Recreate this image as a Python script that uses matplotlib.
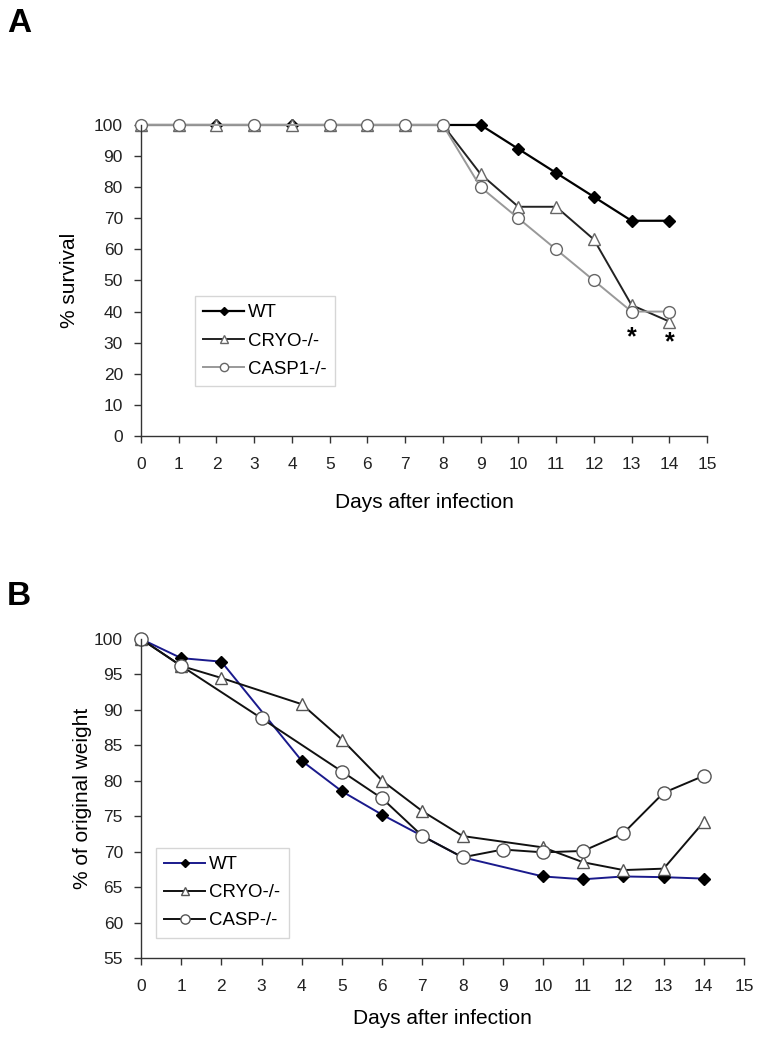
import matplotlib
matplotlib.use('Agg')
import matplotlib.pyplot as plt

plt.rcParams['font.family'] = ['Liberation Sans', 'DejaVu Sans']

# panel A - survival
days_a = list(range(15))
wt_a = [100, 100, 100, 100, 100, 100, 100, 100, 100, 100, 92.3, 84.6, 76.9, 69.2, 69.2]
cryo_a = [100, 100, 100, 100, 100, 100, 100, 100, 100, 84.2, 73.7, 73.7, 63.2, 42.1, 36.8]
casp_days_a = [0, 1, 3, 5, 6, 7, 8, 9, 10, 11, 12, 13, 14]
casp_a = [100, 100, 100, 100, 100, 100, 100, 80, 70, 60, 50, 40, 40]
star_days = [13, 14]
star_y = [29.5, 28]

# panel B - weight
wt_days_b = [0, 1, 2, 4, 5, 6, 8, 10, 11, 12, 13, 14]
wt_b = [100, 97.3, 96.8, 82.8, 78.5, 75.2, 69.2, 66.5, 66.1, 66.5, 66.4, 66.2]
cryo_days_b = [0, 1, 2, 4, 5, 6, 7, 8, 10, 11, 12, 13, 14]
cryo_b = [100, 96.2, 94.5, 90.8, 85.8, 80.0, 75.7, 72.2, 70.6, 68.5, 67.4, 67.6, 74.2]
casp_days_b = [0, 1, 3, 5, 6, 7, 8, 9, 10, 11, 12, 13, 14]
casp_b = [100, 96.2, 88.8, 81.3, 77.5, 72.2, 69.2, 70.3, 69.9, 70.1, 72.6, 78.3, 80.7]

fig = plt.figure(figsize=(7.69, 10.38), dpi=100)
axA = fig.add_axes([0.1834, 0.5800, 0.7360, 0.2996])
axB = fig.add_axes([0.1834, 0.0771, 0.7841, 0.3073])


def style(ax, ymin, ymax, ystep):
    ax.set_xlim(0, 15)
    ax.set_ylim(ymin, ymax)
    ax.set_xticks(range(16))
    ax.set_yticks(range(ymin, ymax + 1, ystep))
    for s in ['top', 'right']:
        ax.spines[s].set_visible(False)
    for s in ['left', 'bottom']:
        ax.spines[s].set_color('#333333')
        ax.spines[s].set_linewidth(1.0)
    ax.tick_params(direction='out', length=5, width=1, color='#333333',
                   labelsize=12.5, labelcolor='#222222')
    ax.tick_params(axis='x', pad=10)
    ax.tick_params(axis='y', pad=8)


def legend(ax, anchor):
    leg = ax.legend(loc='lower left', bbox_to_anchor=anchor, fontsize=13.4,
                    frameon=True, fancybox=False, handlelength=2.2,
                    borderpad=0.45, labelspacing=0.6, handletextpad=0.2,
                    borderaxespad=0, markerscale=0.7)
    leg.get_frame().set_edgecolor('#cccccc')
    leg.get_frame().set_linewidth(1.0)


style(axA, 0, 100, 10)
axA.plot(days_a, wt_a, color='black', lw=1.6, marker='D', ms=6.5,
         mfc='black', mec='black', label='WT', clip_on=False)
axA.plot(days_a, cryo_a, color='#222222', lw=1.4, marker='^', ms=8.5,
         mfc='white', mec='#666666', label='CRYO-/-', clip_on=False)
axA.plot(casp_days_a, casp_a, color='#999999', lw=1.4, marker='o', ms=8.5,
         mfc='white', mec='#666666', label='CASP1-/-', clip_on=False)
for d, y in zip(star_days, star_y):
    axA.text(d, y, '*', ha='center', va='baseline', fontsize=18, fontweight='bold')
axA.set_ylabel('% survival', fontsize=15)
axA.set_xlabel('Days after infection', fontsize=15)
axA.yaxis.set_label_coords(-0.11, 0.5)
axA.xaxis.set_label_coords(0.5, -0.185)
legend(axA, (0.095, 0.16))

style(axB, 55, 100, 5)
axB.plot(wt_days_b, wt_b, color='#1a1a8c', lw=1.4, marker='D', ms=6.5,
         mfc='black', mec='black', label='WT', clip_on=False)
axB.plot(cryo_days_b, cryo_b, color='#111111', lw=1.4, marker='^', ms=9,
         mfc='white', mec='#555555', label='CRYO-/-', clip_on=False)
axB.plot(casp_days_b, casp_b, color='#111111', lw=1.4, marker='o', ms=9.5,
         mfc='white', mec='#555555', label='CASP-/-', clip_on=False)
axB.set_ylabel('% of original weight', fontsize=15)
axB.set_xlabel('Days after infection', fontsize=15)
axB.yaxis.set_label_coords(-0.082, 0.5)
axB.xaxis.set_label_coords(0.5, -0.16)
legend(axB, (0.025, 0.063))

fig.text(0.009, 0.992, 'A', fontsize=24, fontweight='bold', va='top')
fig.text(0.009, 0.440, 'B', fontsize=24, fontweight='bold', va='top')

fig.savefig('out.png', dpi=100, facecolor='white')
